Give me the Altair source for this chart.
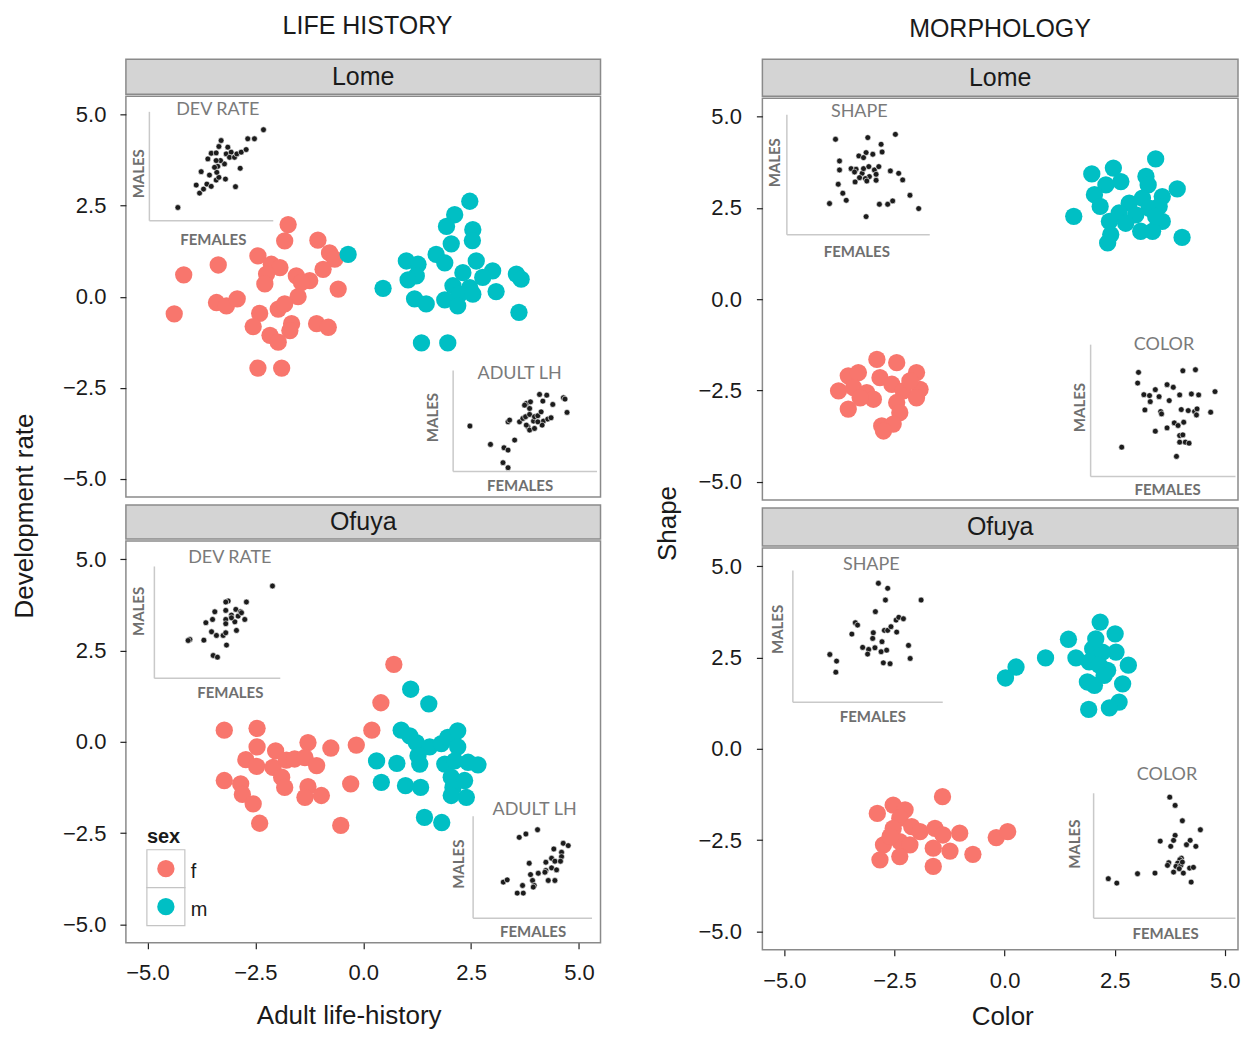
import altair as alt
import pandas as pd

FONT = "Liberation Sans"
IFONT = "Lato"
F_COL, M_COL = "#F8766D", "#00BFC4"
BORDER = "#8a8a8a"
STRIP_FILL = "#D4D4D4"
TICKS = [-5.0, -2.5, 0.0, 2.5, 5.0]
SEXES = ["f", "m"]

# ---------------- main panels ----------------
# LIFE HISTORY - Lome
lh_lome_f_x = [-1.74, -1.82, -1.05, -0.78, -0.66, -0.93, -2.44, -2.13, -1.93, -2.24, -2.28, -1.55,
               -1.24, -1.43, -0.58, -3.36, -4.16, -3.40, -3.17, -2.92, -1.51, -4.38, -2.40, -1.97,
               -1.82, -2.55, -1.66, -1.70, -2.16, -1.97, -1.08, -0.81, -2.44, -1.89]
lh_lome_f_y = [1.98, 1.53, 1.55, 1.20, 1.03, 0.75, 1.12, 0.89, 0.80, 0.62, 0.35, 0.57,
               0.44, 0.39, 0.21, 0.87, 0.60, -0.16, -0.25, -0.06, 0.00, -0.47, -0.46, -0.34,
               -0.20, -0.82, -0.74, -0.93, -1.06, -1.25, -0.74, -0.84, -1.96, -1.96]
lh_lome_m_x = [2.47, 2.12, 1.93, 2.54, 2.53, 2.04, 1.69, -0.35, 1.00, 1.27, 2.62, 1.89, 2.31, 3.00,
               2.77, 1.23, 1.04, 3.55, 3.66, 2.08, 2.47, 0.46, 2.23, 2.54, 3.08, 1.19, 1.46, 1.89,
               2.19, 3.61, 1.35, 1.96]
lh_lome_m_y = [2.62, 2.25, 1.93, 1.84, 1.54, 1.45, 1.16, 1.16, 0.98, 0.89, 0.98, 0.93, 0.66, 0.71,
               0.53, 0.57, 0.46, 0.62, 0.48, 0.30, 0.25, 0.23, 0.07, 0.07, 0.14, -0.06, -0.20, -0.09,
               -0.25, -0.43, -1.27, -1.27]
# LIFE HISTORY - Ofuya
lh_ofu_f_x = [0.71, 0.41, 0.20, -3.22, -2.46, -2.46, -2.03, -1.28, -0.75, -0.16, -2.72, -2.47, -2.09,
              -1.78, -1.59, -1.35, -1.08, -3.22, -2.84, -1.89, -1.82, -1.28, -1.35, -0.97, -0.29,
              -2.80, -2.55, -2.40, -0.52]
lh_ofu_f_y = [2.12, 1.07, 0.32, 0.32, 0.37, -0.14, -0.25, -0.02, -0.17, -0.09, -0.49, -0.67, -0.70,
              -0.50, -0.47, -0.43, -0.65, -1.06, -1.15, -0.97, -1.25, -1.23, -1.52, -1.47, -1.15,
              -1.44, -1.70, -2.23, -2.29]
lh_ofu_m_x = [1.10, 1.52, 0.88, 1.08, 1.23, 1.54, 1.81, 1.96, 2.19, 2.19, 1.27, 1.31, 0.31, 0.78,
              1.89, 2.12, 2.43, 2.66, 0.42, 0.98, 1.33, 2.04, 2.08, 2.35, 2.04, 2.39, 1.42, 1.82]
lh_ofu_m_y = [1.44, 1.04, 0.32, 0.16, -0.02, -0.14, -0.05, 0.12, 0.30, -0.14, -0.38, -0.61, -0.52,
              -0.59, -0.61, -0.52, -0.56, -0.63, -1.11, -1.20, -1.25, -0.97, -1.25, -1.06, -1.47,
              -1.52, -2.07, -2.21]
# MORPHOLOGY - Lome
mo_lome_f_x = [-2.90, -2.45, -2.00, -3.55, -3.32, -2.83, -3.77, -3.43, -3.13, -2.56, -2.30, -1.92,
               -3.55, -2.98, -2.45, -2.00, -2.38, -2.79, -2.53, -2.75, -3.28, -2.15]
mo_lome_f_y = [-1.65, -1.74, -2.01, -2.10, -2.01, -2.15, -2.51, -2.42, -2.56, -2.33, -2.51, -2.47,
               -3.01, -2.74, -2.83, -2.70, -3.11, -3.47, -3.42, -3.61, -2.70, -2.24]
mo_lome_m_x = [3.43, 1.98, 2.47, 2.64, 3.21, 3.26, 2.30, 2.04, 3.92, 3.58, 2.17, 2.83, 3.13, 3.28,
               3.51, 1.57, 2.60, 2.98, 2.38, 2.75, 3.58, 3.09, 3.36, 4.03, 2.41, 2.34, 3.43]
mo_lome_m_y = [3.84, 3.43, 3.59, 3.22, 3.36, 3.13, 3.13, 2.86, 3.02, 2.81, 2.54, 2.63, 2.77, 2.49,
               2.54, 2.27, 2.36, 2.31, 2.13, 2.08, 2.13, 1.86, 1.86, 1.69, 1.77, 1.54, 2.27]
# MORPHOLOGY - Ofuya
mo_ofu_f_x = [-1.41, -2.89, -2.53, -2.26, -2.38, -2.53, -2.11, -1.92, -1.58, -1.40, -1.02, -0.19,
              0.07, -2.75, -2.38, -2.15, -2.38, -2.83, -1.62, -1.24, -0.72, -1.62, -2.60]
mo_ofu_f_y = [-1.31, -1.77, -1.54, -1.67, -1.90, -2.18, -2.13, -2.27, -2.18, -2.36, -2.31, -2.43,
              -2.27, -2.63, -2.54, -2.63, -2.95, -3.04, -2.72, -2.80, -2.89, -3.22, -2.40]
mo_ofu_m_x = [2.17, 2.51, 1.45, 0.93, 0.26, 0.02, 1.62, 2.00, 2.22, 2.53, 1.92, 2.15, 2.34, 2.81,
              1.88, 2.04, 2.26, 2.68, 2.60, 2.38, 1.91, 2.07]
mo_ofu_m_y = [3.47, 3.15, 3.00, 2.49, 2.24, 1.94, 2.49, 2.74, 2.65, 2.65, 2.38, 2.29, 2.15, 2.29,
              1.83, 1.74, 2.01, 1.78, 1.28, 1.12, 1.08, 3.01]

# ---------------- insets: females (x) vs males (y), arbitrary 0-10 units ----------------
dev_lome_fem = [2.34, 4.09, 4.41, 3.82, 4.68, 5.03, 5.43, 5.65, 6.18, 6.99, 4.89, 4.22, 5.48, 5.56,
                6.10, 5.78, 5.43, 4.76, 5.03, 5.43, 5.65, 5.83, 6.37, 6.24, 6.64, 6.51, 6.91, 7.10,
                7.45, 7.85, 7.37, 7.98, 8.52, 9.25, 5.30]
dev_lome_mal = [1.17, 2.49, 2.86, 3.23, 3.32, 3.11, 3.69, 3.94, 3.78, 3.08, 4.15, 4.46, 4.40, 4.95,
                5.17, 5.48, 5.48, 5.63, 6.15, 6.18, 6.77, 7.32, 6.71, 6.09, 6.25, 5.78, 5.78, 6.09,
                6.25, 6.49, 4.77, 7.48, 7.48, 8.31, 4.86]
alh_lome_fem = [1.20, 2.63, 3.57, 3.85, 3.50, 3.85, 4.31, 3.85, 3.96, 4.65, 4.88, 5.07, 5.35, 5.23,
                5.12, 5.35, 5.69, 5.62, 5.69, 5.92, 6.15, 6.31, 6.22, 6.61, 6.84, 5.35, 5.12, 5.41,
                5.00, 6.04, 6.27, 6.54, 6.96, 7.70, 7.81, 7.95, 5.92]
alh_lome_mal = [4.46, 2.64, 2.31, 2.08, 0.83, 0.33, 3.07, 4.88, 5.05, 4.88, 5.21, 5.38, 5.61, 4.39,
                4.55, 4.06, 4.22, 4.95, 5.38, 5.48, 5.87, 4.95, 4.55, 5.15, 5.28, 6.20, 6.70, 6.86,
                6.53, 7.59, 6.93, 7.52, 6.60, 7.26, 7.13, 5.81, 4.88]
dev_ofu_fem = [9.42, 7.35, 5.90, 5.71, 4.84, 5.71, 6.51, 6.88, 6.69, 6.16, 5.71, 6.43, 7.22, 4.13,
               4.66, 5.71, 6.16, 4.58, 4.97, 5.50, 5.71, 6.56, 2.86, 2.72, 3.97, 5.77, 4.71, 5.05, 6.96]
dev_ofu_mal = [8.21, 6.78, 6.87, 6.78, 5.91, 6.03, 6.12, 5.91, 5.52, 5.61, 5.22, 5.01, 5.22, 4.93,
               5.22, 4.84, 5.37, 4.12, 3.79, 3.79, 4.03, 4.24, 3.43, 3.34, 3.37, 2.93, 2.00, 1.85, 5.82]
alh_ofu_fem = [3.92, 4.48, 5.46, 7.62, 8.04, 6.83, 7.48, 7.48, 6.64, 6.16, 6.92, 7.39, 4.76, 6.16,
               6.64, 7.06, 5.52, 4.87, 6.08, 5.04, 5.18, 5.10, 6.36, 6.92, 2.58, 2.91, 3.75, 4.26, 4.20]
alh_ofu_mal = [7.88, 8.21, 8.63, 7.30, 7.07, 6.74, 6.42, 5.99, 5.83, 5.44, 5.54, 5.54, 5.34, 4.63,
               4.89, 4.69, 4.36, 4.23, 4.46, 3.65, 3.16, 3.00, 3.65, 3.65, 3.49, 3.71, 2.41, 2.41, 3.16]
shp_lome_fem = [3.44, 5.70, 7.63, 6.63, 6.70, 6.05, 5.58, 5.07, 5.40, 3.72, 3.72, 4.53, 4.88, 4.77,
                5.30, 5.40, 5.77, 6.16, 6.47, 6.28, 5.81, 5.53, 6.28, 5.63, 4.81, 3.63, 7.28, 7.86,
                8.14, 3.95, 4.19, 3.02, 6.51, 7.09, 7.44, 8.65, 9.26, 5.58, 5.12]
shp_lome_mal = [7.92, 8.06, 8.33, 7.50, 6.86, 6.67, 6.81, 6.53, 6.39, 6.11, 5.36, 5.47, 5.42, 5.19,
                5.08, 5.47, 5.64, 5.36, 5.64, 5.00, 4.81, 4.64, 4.50, 4.44, 4.36, 4.17, 5.28, 5.08,
                4.53, 3.42, 2.83, 2.56, 2.50, 2.50, 2.78, 3.25, 2.14, 1.47, 4.72]
col_lome_fem = [3.34, 6.40, 7.27, 3.28, 5.31, 5.74, 4.50, 3.71, 4.10, 4.76, 4.15, 5.46, 6.18, 6.99,
                7.49, 8.62, 3.78, 4.87, 4.93, 6.29, 6.77, 7.21, 7.38, 7.34, 8.32, 5.81, 6.07, 6.46,
                5.31, 4.50, 6.18, 6.40, 6.18, 6.57, 6.83, 2.18, 5.96]
col_lome_mal = [7.86, 7.98, 8.06, 7.05, 6.93, 6.73, 6.55, 6.17, 6.10, 6.02, 5.64, 5.72, 6.15, 6.22,
                6.15, 6.40, 5.01, 4.89, 4.71, 5.04, 4.96, 4.89, 5.09, 4.63, 4.84, 4.03, 3.83, 4.08,
                3.65, 3.40, 3.07, 3.12, 2.57, 2.57, 2.49, 2.19, 1.49]
shp_ofu_fem = [5.74, 6.36, 6.21, 8.59, 5.54, 4.20, 4.35, 3.97, 5.40, 5.36, 6.14, 6.36, 6.58, 6.92,
               7.10, 7.41, 6.96, 5.98, 4.69, 5.09, 5.02, 5.51, 5.92, 6.29, 6.07, 6.52, 7.75, 7.86,
               2.50, 2.95, 2.90]
shp_ofu_mal = [8.99, 8.61, 7.72, 7.72, 6.84, 6.00, 5.82, 5.14, 5.24, 4.81, 5.42, 5.42, 5.70, 6.20,
               6.41, 6.30, 5.29, 4.56, 4.13, 3.97, 3.62, 4.10, 3.80, 3.92, 2.96, 2.89, 4.28, 3.29,
               3.59, 3.09, 2.25]
col_ofu_fem = [5.40, 5.78, 6.29, 7.56, 5.78, 4.73, 5.67, 5.47, 6.84, 6.58, 7.24, 6.22, 6.11, 5.96,
               5.33, 5.24, 5.84, 6.18, 5.67, 6.36, 6.80, 7.07, 6.91, 4.36, 3.13, 1.07, 1.67, 6.07, 6.29]
col_ofu_mal = [9.65, 8.99, 7.76, 7.04, 6.59, 6.13, 6.19, 5.71, 6.19, 5.84, 5.71, 4.77, 4.64, 4.37,
               4.40, 4.19, 4.11, 4.19, 3.65, 3.57, 3.97, 4.03, 2.85, 3.57, 3.52, 3.12, 2.77, 3.92, 4.45]

COLOR_SCALE = alt.Scale(domain=SEXES, range=[F_COL, M_COL])


def main_df(fx, fy, mx, my):
    return pd.DataFrame({"x": fx + mx, "y": fy + my, "sex": ["f"] * len(fx) + ["m"] * len(mx)})


def inset(fem, mal, title, xr, yr, H, tpos, mpos, fpos):
    d = pd.DataFrame({"females": fem, "males": mal})
    x0, x1 = xr
    y0, y1 = yr
    common = dict(labels=False, ticks=False, grid=False, domainColor="#c9c9c9", domainWidth=1.5,
                  titleColor="#6f6f6f", titleFont=IFONT, titleFontWeight="bold", titleFontSize=15,
                  titleAlign="center", titleBaseline="middle")
    pts = alt.Chart(d).mark_circle(size=34, color="#1c1c1c", opacity=1, stroke="white",
                                   strokeWidth=0.6).encode(
        x=alt.X("females:Q", scale=alt.Scale(domain=[0, 10], range=[x0, x1], nice=False, zero=False),
                axis=alt.Axis(orient="bottom", offset=y1 - H, title="FEMALES", titleX=fpos[0],
                              titleY=fpos[1] - y1, titleAngle=0, **common)),
        y=alt.Y("males:Q", scale=alt.Scale(domain=[0, 10], range=[y1, y0], nice=False, zero=False),
                axis=alt.Axis(orient="left", offset=-x0, title="MALES", titleX=mpos[0] - x0,
                              titleY=mpos[1], titleAngle=270, **common)),
    )
    ttl = alt.Chart(pd.DataFrame({"t": [title]})).mark_text(
        font=IFONT, fontSize=18, color="#7a7a7a", align="center", baseline="middle").encode(
        text="t:N", x=alt.value(tpos[0]), y=alt.value(tpos[1]))
    return [pts, ttl]


def legend_layers():
    d = pd.DataFrame({"sex": SEXES})
    ys = alt.Scale(type="band", domain=SEXES, range=[309, 385], paddingInner=0, paddingOuter=0)
    boxes = alt.Chart(d).mark_rect(fill="white", stroke="#c4c4c4", strokeWidth=1.2).encode(
        y=alt.Y("sex:N", scale=ys, axis=None), x=alt.value(21), x2=alt.value(59))
    dots = alt.Chart(d).mark_circle(size=300, opacity=1).encode(
        y=alt.Y("sex:N", scale=ys, axis=None), x=alt.value(40),
        color=alt.Color("sex:N", scale=COLOR_SCALE, legend=None))
    labs = alt.Chart(d).mark_text(font=FONT, fontSize=20, color="#1a1a1a", align="left",
                                  baseline="middle", dy=3).encode(
        y=alt.Y("sex:N", scale=ys, axis=None), x=alt.value(65), text="sex:N")
    ttl = alt.Chart(pd.DataFrame({"t": ["sex"]})).mark_text(
        font=FONT, fontSize=20, fontWeight="bold", color="#1a1a1a", align="left",
        baseline="middle").encode(text="t:N", x=alt.value(21), y=alt.value(296))
    return [boxes, dots, labs, ttl]


def panel(df, W, H, insets, xaxis, xdom=(-5.5, 5.5), legend=False, lab_pad=14):
    yax = dict(values=TICKS, format=".1f", grid=False, domain=False, tickColor="#222222", tickSize=6,
               tickWidth=1.2, labelFont=FONT, labelFontSize=22, labelColor="#1a1a1a",
               labelPadding=lab_pad, title=None)
    if xaxis:
        xax = alt.Axis(values=TICKS, format=".1f", grid=False, domain=False, tickColor="#222222",
                       tickSize=6, tickWidth=1.2, labelFont=FONT, labelFontSize=22,
                       labelColor="#1a1a1a", labelPadding=xaxis[3], title=xaxis[0], titleX=xaxis[1],
                       titleY=xaxis[2], titleAlign="center", titleBaseline="middle", titleFont=FONT,
                       titleFontSize=26, titleFontWeight="normal", titleColor="#1a1a1a")
    else:
        xax = None
    base = alt.Chart(df).mark_circle(size=300, opacity=1).encode(
        x=alt.X("x:Q", scale=alt.Scale(domain=list(xdom), nice=False, zero=False), axis=xax),
        y=alt.Y("y:Q", scale=alt.Scale(domain=[-5.5, 5.5], nice=False, zero=False),
                axis=alt.Axis(**yax)),
        color=alt.Color("sex:N", scale=COLOR_SCALE, legend=None),
    )
    layers = [base]
    for ins in insets:
        layers += inset(*ins[:5], H, *ins[5:])
    if legend:
        layers += legend_layers()
    return alt.layer(*layers).resolve_scale(x="independent", y="independent").properties(
        width=W, height=H, view=alt.ViewBackground(fill="white", stroke=BORDER, strokeWidth=1.5))


def strip(label, W, H):
    return alt.Chart(pd.DataFrame({"t": [label]})).mark_text(
        font=FONT, fontSize=25, color="#1a1a1a", align="center", baseline="middle").encode(
        text="t:N", x=alt.value(W / 2), y=alt.value(H / 2)).properties(
        width=W, height=H, view=alt.ViewBackground(fill=STRIP_FILL, stroke=BORDER, strokeWidth=1.5))


LW, RW = 475, 476
RDOM = (-5.5, 5.3)

lh_lome = panel(main_df(lh_lome_f_x, lh_lome_f_y, lh_lome_m_x, lh_lome_m_y), LW, 401, [
    (dev_lome_fem, dev_lome_mal, "DEV RATE", (23, 147), (15, 124), (92, 14), (13, 77), (87, 143)),
    (alh_lome_fem, alh_lome_mal, "ADULT LH", (327, 471), (274, 375), (394, 278), (307, 321), (394, 389)),
], None)

lh_ofu = panel(main_df(lh_ofu_f_x, lh_ofu_f_y, lh_ofu_m_x, lh_ofu_m_y), LW, 402, [
    (dev_ofu_fem, dev_ofu_mal, "DEV RATE", (28, 154), (25, 137), (104, 17), (13, 70), (104, 152)),
    (alh_ofu_fem, alh_ofu_mal, "ADULT LH", (347, 466), (275, 377), (409, 269), (333, 323), (407, 391)),
], ("Adult life-history", 223, 73, 14), legend=True)

mo_lome = panel(main_df(mo_lome_f_x, mo_lome_f_y, mo_lome_m_x, mo_lome_m_y), RW, 402, [
    (shp_lome_fem, shp_lome_mal, "SHAPE", (24, 167), (16, 136), (97, 14), (12, 64), (94, 153)),
    (col_lome_fem, col_lome_mal, "COLOR", (328, 473), (246, 378), (402, 247), (317, 309), (405, 391)),
], None, xdom=RDOM, lab_pad=15)

mo_ofu = panel(main_df(mo_ofu_f_x, mo_ofu_f_y, mo_ofu_m_x, mo_ofu_m_y), RW, 402, [
    (shp_ofu_fem, shp_ofu_mal, "SHAPE", (30, 180), (22, 154), (109, 17), (15, 81), (110, 169)),
    (col_ofu_fem, col_ofu_mal, "COLOR", (331, 473), (245, 370), (405, 227), (312, 296), (403, 386)),
], ("Color", 240, 67, 15), xdom=RDOM, lab_pad=15)


def column(s1, p1, s2, p2, gap, title, toff, tdx, ytitle, yoff, ydx):
    top = alt.vconcat(s1, p1, spacing=0)
    bot = alt.vconcat(s2, p2, spacing=0)
    inner = alt.vconcat(top, bot, spacing=gap, title=alt.TitleParams(
        text=ytitle, orient="left", anchor="middle", font=FONT, fontSize=26,
        fontWeight="normal", color="#1a1a1a", offset=yoff, dx=ydx))
    return alt.vconcat(inner, title=alt.TitleParams(
        text=title, anchor="middle", font=FONT, fontSize=25, fontWeight="normal",
        color="#1a1a1a", baseline="bottom", offset=toff, dx=tdx))


left = column(strip("Lome", LW, 35), lh_lome, strip("Ofuya", LW, 34), lh_ofu, 6,
              "LIFE HISTORY", -5, 61, "Development rate", 24, 28)
right = column(strip("Lome", RW, 37), mo_lome, strip("Ofuya", RW, 38), mo_ofu, 6,
               "MORPHOLOGY", -8, 52, "Shape", 16, 21)

chart = alt.hconcat(left, right, spacing=53).properties(
    padding={"left": 3, "top": 5, "right": 0, "bottom": 0}
).configure_view(stroke=None)

chart.save("out.html", embed_options={"renderer": "svg", "actions": False})
